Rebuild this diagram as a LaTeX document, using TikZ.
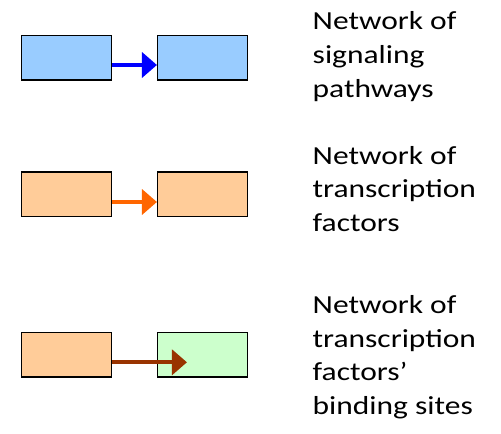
\documentclass[tikz,border=0pt]{standalone}
\usepackage{fontspec}
\setmainfont{Carlito}[FakeStretch=1.21]
\usetikzlibrary{arrows.meta}

\definecolor{sigfill}{HTML}{99CCFF}
\definecolor{sigarrow}{HTML}{0000FF}
\definecolor{tffill}{HTML}{FFCC99}
\definecolor{tfarrow}{HTML}{FF6600}
\definecolor{sitefill}{HTML}{CCFFCC}
\definecolor{sitearrow}{HTML}{993300}

\begin{document}
\begin{tikzpicture}[x=1bp,y=-1bp,
  genebox/.style={draw=black, line width=1.5bp, minimum width=90bp,
    minimum height=44.5bp, inner sep=0pt},
  link/.style={line width=4bp, -{Triangle[length=15bp,width=25bp]}},
  caption/.style={anchor=base west, inner sep=0pt, align=left,
    font=\fontsize{26bp}{33.7bp}\selectfont}]
  \useasboundingbox (0,0) rectangle (501,434);

  % signaling pathways
  \node[genebox, fill=sigfill] (s1) at (66.5,58) {};
  \node[genebox, fill=sigfill] (s2) at (202.7,58) {};
  \draw[link, sigarrow] ([yshift=-7bp]s1.east) -- ([yshift=-7bp]s2.west);

  % transcription factors
  \node[genebox, fill=tffill] (t1) at (66.5,194.5) {};
  \node[genebox, fill=tffill] (t2) at (202.7,194.5) {};
  \draw[link, tfarrow] ([yshift=-7.5bp]t1.east) -- ([yshift=-7.5bp]t2.west);

  % binding sites
  \node[genebox, fill=tffill] (b1) at (66.5,354.8) {};
  \node[genebox, fill=sitefill] (b2) at (202.7,354.8) {};
  \coordinate (site) at ([xshift=30bp,yshift=-7.5bp]b2.west);
  \draw[link, sitearrow] ([yshift=-7.5bp]b1.east) -- (site);

  % captions (base anchor sits on the last line)
  \node[caption] (c1) at (312.5,97.4) {Network of\\signaling\\pathways};
  \node[caption] (c2) at (312.5,231.7) {Network of\\transcription\\factors};
  \node[caption] (c3) at (312.5,414.4) {Network of\\transcription\\factors’\\binding sites};
\end{tikzpicture}
\end{document}
